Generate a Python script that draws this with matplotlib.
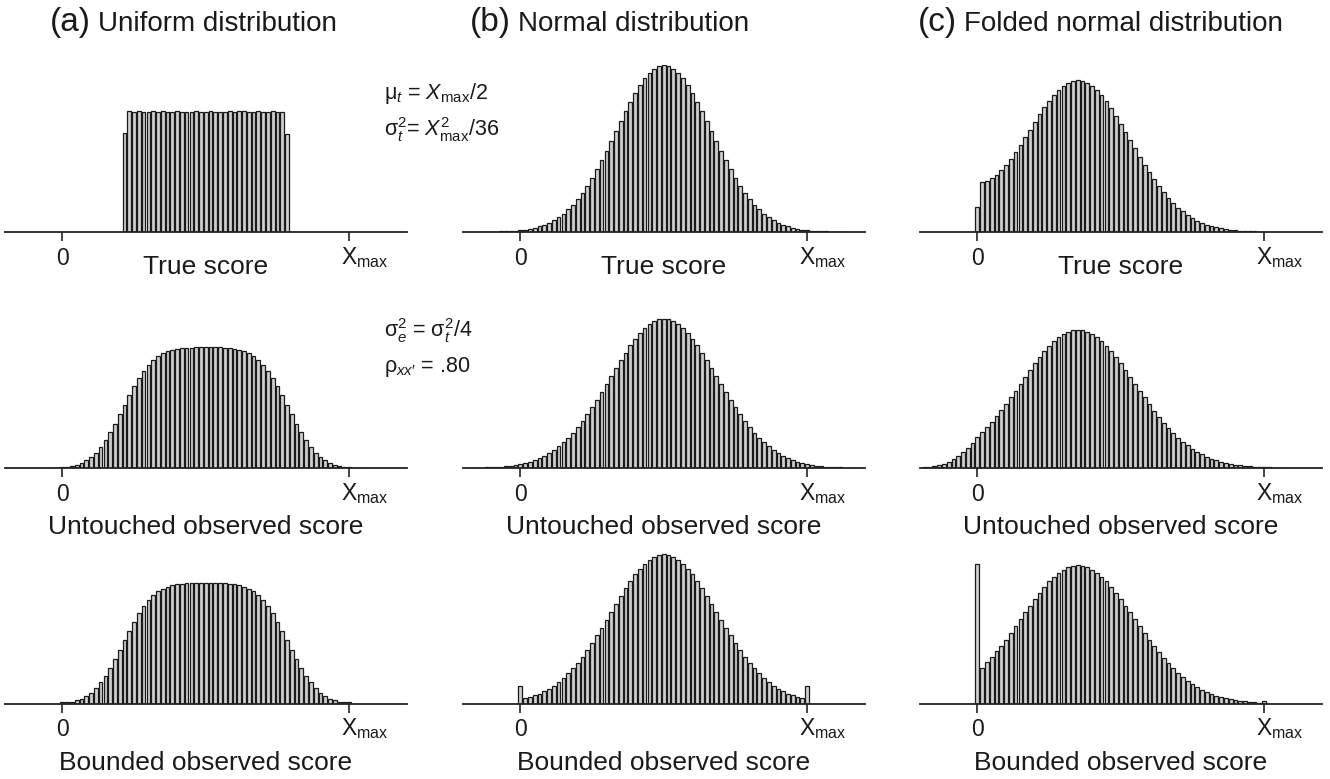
import numpy as np
import matplotlib.pyplot as plt

plt.rcParams['font.family'] = ['Liberation Sans', 'DejaVu Sans']
plt.rcParams['mathtext.fontset'] = 'custom'
plt.rcParams['mathtext.rm'] = 'Liberation Sans'
plt.rcParams['mathtext.it'] = 'Liberation Sans:italic'
plt.rcParams['mathtext.bf'] = 'Liberation Sans:bold'

# relative frequencies (per mille) for each score point, first score given by *_start
true_uniform_start = 13
true_uniform = [23.7, 28.9, 28.6, 28.9, 28.8, 28.7, 28.9, 28.8, 28.9, 28.7, 28.8, 28.9,
                28.7, 28.6, 28.8, 28.9, 28.7, 28.8, 28.9, 28.6, 28.8, 28.7, 28.9, 28.8,
                29.0, 28.9, 28.7, 28.8, 28.9, 28.8, 28.7, 28.9, 28.8, 28.6, 23.5]

true_normal_start = -8
true_normal = [0.03, 0.04, 0.06, 0.09, 0.12, 0.17, 0.24, 0.33, 0.44, 0.59, 0.79, 1.04,
               1.36, 1.75, 2.24, 2.83, 3.55, 4.40, 5.40, 6.56, 7.90, 9.40, 11.09, 12.95,
               14.97, 17.14, 19.42, 21.78, 24.20, 26.61, 28.97, 31.22, 33.32, 35.21, 36.83,
               38.14, 39.10, 39.69, 39.89, 39.69, 39.10, 38.14, 36.83, 35.21, 33.32, 31.22,
               28.97, 26.61, 24.20, 21.78, 19.42, 17.14, 14.97, 12.95, 11.09, 9.40, 7.90,
               6.56, 5.40, 4.40, 3.55, 2.83, 2.24, 1.75, 1.36, 1.04, 0.79, 0.59, 0.44, 0.33,
               0.24, 0.17, 0.12, 0.09, 0.06, 0.04, 0.03]

true_folded_start = 0
true_folded = [5.9, 11.85, 12.24, 12.87, 13.73, 14.81, 16.10, 17.56, 19.17, 20.88, 22.68,
               24.52, 26.35, 28.15, 29.85, 31.43, 32.84, 34.04, 35.01, 35.73, 36.16, 36.30,
               36.12, 35.68, 34.95, 33.95, 32.71, 31.26, 29.62, 27.84, 25.95, 23.99, 22.00,
               20.00, 18.04, 16.14, 14.31, 12.59, 10.99, 9.51, 8.16, 6.95, 5.86, 4.91, 4.08,
               3.36, 2.74, 2.22, 1.78, 1.42, 1.12, 0.88, 0.69, 0.53, 0.40, 0.30, 0.23, 0.17,
               0.13, 0.09, 0.07]

obs_uniform_start = -3
obs_uniform = [0.03, 0.05, 0.09, 0.16, 0.28, 0.47, 0.76, 1.19, 1.80, 2.62, 3.69, 5.04, 6.67,
               8.54, 10.64, 12.87, 15.17, 17.44, 19.59, 21.56, 23.28, 24.72, 25.89, 26.80,
               27.48, 27.97, 28.31, 28.53, 28.67, 28.76, 28.81, 28.84, 28.85, 29.05, 28.85,
               28.84, 28.92, 28.76, 28.67, 28.53, 28.31, 27.97, 27.48, 26.80, 25.89, 24.72,
               23.28, 21.56, 19.59, 17.44, 15.17, 12.87, 10.64, 8.54, 6.67, 5.04, 3.69, 2.62,
               1.80, 1.19, 0.76, 0.47, 0.28, 0.16, 0.09, 0.05, 0.03]

obs_normal_start = -10
obs_normal = [0.06, 0.08, 0.11, 0.15, 0.20, 0.27, 0.35, 0.46, 0.59, 0.76, 0.97, 1.23, 1.55,
              1.93, 2.39, 2.93, 3.56, 4.30, 5.15, 6.11, 7.20, 8.42, 9.76, 11.23, 12.82, 14.51,
              16.29, 18.15, 20.06, 21.99, 23.92, 25.81, 27.62, 29.33, 30.90, 32.28, 33.47,
              34.42, 35.11, 35.54, 35.68, 35.54, 35.11, 34.42, 33.47, 32.28, 30.90, 29.33,
              27.62, 25.81, 23.92, 21.99, 20.06, 18.15, 16.29, 14.51, 12.82, 11.23, 9.76,
              8.42, 7.20, 6.11, 5.15, 4.30, 3.56, 2.93, 2.39, 1.93, 1.55, 1.23, 0.97, 0.76,
              0.59, 0.46, 0.35, 0.27, 0.20, 0.15, 0.11, 0.08, 0.06]

obs_folded_start = -12
obs_folded = [0.10, 0.17, 0.29, 0.46, 0.70, 1.05, 1.50, 2.09, 2.84, 3.73, 4.79, 5.98, 7.30,
              8.60, 9.90, 11.10, 12.45, 13.85, 15.30, 16.87, 18.50, 20.16, 21.81, 23.44,
              25.02, 26.52, 27.92, 29.19, 30.31, 31.26, 32.02, 32.57, 32.91, 33.02, 32.91,
              32.57, 32.02, 31.26, 30.31, 29.19, 27.92, 26.52, 25.02, 23.44, 21.81, 20.16,
              18.50, 16.87, 15.27, 13.73, 12.26, 10.88, 9.58, 8.38, 7.28, 6.29, 5.39, 4.59,
              3.88, 3.26, 2.71, 2.25, 1.85, 1.51, 1.23, 0.99, 0.79, 0.63, 0.50, 0.39, 0.30,
              0.23, 0.18, 0.14, 0.10, 0.08, 0.06]

bnd_uniform_start = 0
bnd_uniform = [0.34, 0.28, 0.47, 0.76, 1.19, 1.80, 2.62, 3.69, 5.04, 6.67, 8.54, 10.64,
               12.87, 15.17, 17.44, 19.59, 21.56, 23.28, 24.72, 25.89, 26.80, 27.48, 27.97,
               28.31, 28.53, 28.67, 28.76, 28.81, 28.84, 28.85, 28.90, 28.85, 28.84, 28.81,
               28.76, 28.67, 28.53, 28.31, 27.97, 27.48, 26.80, 25.89, 24.72, 23.28, 21.56,
               19.59, 17.44, 15.17, 12.87, 10.64, 8.54, 6.67, 5.04, 3.69, 2.62, 1.80, 1.19,
               0.76, 0.47, 0.28, 0.33]

bnd_normal_start = 0
bnd_normal = [4.16, 1.23, 1.55, 1.93, 2.39, 2.93, 3.56, 4.30, 5.15, 6.11, 7.20, 8.42, 9.76,
              11.23, 12.82, 14.51, 16.29, 18.15, 20.06, 21.99, 23.92, 25.81, 27.62, 29.33,
              30.90, 32.28, 33.47, 34.42, 35.11, 35.54, 35.68, 35.54, 35.11, 34.42, 33.47,
              32.28, 30.90, 29.33, 27.62, 25.81, 23.92, 21.99, 20.06, 18.15, 16.29, 14.51,
              12.82, 11.23, 9.76, 8.42, 7.20, 6.11, 5.15, 4.30, 3.56, 2.93, 2.39, 1.93, 1.55,
              1.23, 4.16]

bnd_folded_start = 0
bnd_folded = [33.3, 8.60, 9.90, 11.10, 12.45, 13.85, 15.30, 16.87, 18.50, 20.16, 21.81,
              23.44, 25.02, 26.52, 27.92, 29.19, 30.31, 31.26, 32.02, 32.57, 32.91, 33.02,
              32.91, 32.57, 32.02, 31.26, 30.31, 29.19, 27.92, 26.52, 25.02, 23.44, 21.81,
              20.16, 18.50, 16.87, 15.27, 13.73, 12.26, 10.88, 9.58, 8.38, 7.28, 6.29, 5.39,
              4.59, 3.88, 3.26, 2.71, 2.25, 1.85, 1.51, 1.23, 0.99, 0.79, 0.63, 0.50, 0.39,
              0.30, 0.23, 0.62]

x_max = 60
titles = [('(a)', 'Uniform distribution'),
          ('(b)', 'Normal distribution'),
          ('(c)', 'Folded normal distribution')]
row_labels = ['True score', 'Untouched observed score', 'Bounded observed score']

panels = [
    [(true_uniform_start, true_uniform), (true_normal_start, true_normal),
     (true_folded_start, true_folded)],
    [(obs_uniform_start, obs_uniform), (obs_normal_start, obs_normal),
     (obs_folded_start, obs_folded)],
    [(bnd_uniform_start, bnd_uniform), (bnd_normal_start, bnd_normal),
     (bnd_folded_start, bnd_folded)],
]

# layout in pixels
W, H = 1330, 779
col_x = [5, 463, 920]
row_base = [232, 468, 703.5]
ax_w = 401.5
px_per_unit = 4.18
y_top = 40
PT = 0.72  # points per pixel at dpi 100
ink = '#1a1a1a'

fig = plt.figure(figsize=(13.3, 7.79), dpi=100)

for r, row in enumerate(panels):
    for c, (start, vals) in enumerate(row):
        ax = fig.add_axes([col_x[c] / W, (H - row_base[r]) / H,
                           ax_w / W, y_top * px_per_unit / H])
        x = np.arange(start, start + len(vals))
        ax.bar(x, vals, width=0.78, color='#cfcfcf', edgecolor=ink,
               linewidth=0.9, zorder=2)
        ax.set_xlim(-12, 72)
        ax.set_ylim(0, y_top)
        for s in ['left', 'right', 'top']:
            ax.spines[s].set_visible(False)
        ax.spines['bottom'].set_linewidth(1.3)
        ax.spines['bottom'].set_color('#222222')
        ax.spines['bottom'].set_zorder(3)
        ax.set_yticks([])
        ax.set_xticks([0, x_max])
        ax.tick_params(axis='x', length=6.5, width=1.2, color='#222222',
                       labelbottom=False)
        ax.patch.set_alpha(0)

        ax.annotate('0', xy=(0, 0), xytext=(0, -33 * PT), textcoords='offset points',
                    ha='center', va='baseline', fontsize=16.5, color=ink)
        ax.annotate(r'X$_{\mathrm{max}}$', xy=(x_max, 0), xytext=(-8 * PT, -32 * PT),
                    textcoords='offset points', ha='left', va='baseline',
                    fontsize=16.5, color=ink)
        lab_off = -42.3 if r == 0 else -66.5
        ax.annotate(row_labels[r], xy=(0.5, 0), xycoords='axes fraction',
                    xytext=(0, lab_off * PT), textcoords='offset points',
                    ha='center', va='baseline', fontsize=19, color=ink)

# column titles: larger panel tag followed by the distribution name
title_x = [50, 470, 918]
for (tag, name), tx in zip(titles, title_x):
    t = fig.text(tx / W, 1 - 31 / H, tag, fontsize=24, color=ink,
                 ha='left', va='baseline')
    fig.canvas.draw()
    bb = t.get_window_extent()
    fig.text((bb.x1 + 7) / W, 1 - 31 / H, name, fontsize=20, color=ink,
             ha='left', va='baseline')

# parameter notes
notes = [(r'μ$_t$ = $X_{\mathrm{max}}$/2', 99),
         (r'σ$_t^2$= $X_{\mathrm{max}}^2$/36', 136),
         (r'σ$_e^2$ = σ$_t^2$/4', 337),
         (r"ρ$_{xx\prime}$ = .80", 372)]
for txt, yb in notes:
    fig.text(384 / W, 1 - yb / H, txt, fontsize=15.5, color=ink,
             ha='left', va='baseline')

fig.savefig('out.png', dpi=100)
